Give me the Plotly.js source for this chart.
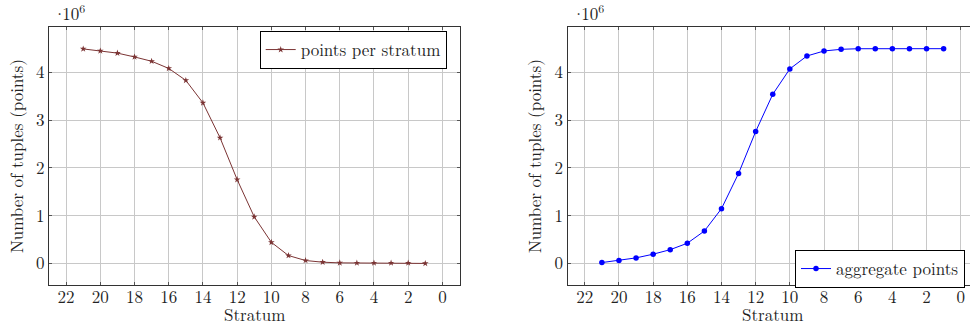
<!DOCTYPE html>
<html>
<head>
<meta charset="utf-8">
<script src="https://cdn.plot.ly/plotly-3.0.1.min.js"></script>
<style>
html,body{margin:0;padding:0;overflow:hidden;background:#fff;width:970px;height:326px;}
#plot{width:985px;height:326px;}
</style>
</head>
<body>
<div id="plot"></div>
<script>
// Data (values in units of 10^6 tuples)
const strata = [21,20,19,18,17,16,15,14,13,12,11,10,9,8,7,6,5,4,3,2,1];
const pointsPerStratum = [4.488,4.446,4.40,4.32,4.23,4.08,3.83,3.36,2.63,1.755,0.976,0.444,0.167,0.063,0.028,0.014,0.012,0.012,0.012,0.012,0.002];
const aggregatePoints = [0.02,0.063,0.118,0.195,0.29,0.424,0.68,1.148,1.885,2.76,3.54,4.07,4.34,4.445,4.48,4.492,4.493,4.493,4.493,4.493,4.493];
const xTickVals = [22,20,18,16,14,12,10,8,6,4,2,0];
const xTickText = ["22","20","18","16","14","12","10","8","6","4","2","0"];
const yTickVals = [0,1,2,3,4];
const yTickText = ["0","1","2","3","4"];

const W = 985, H = 326;
const FONT = "Latin Modern Roman";
const TXT = "#222";
const FS = 17;

function px(v){ return v / W; }
function py(v){ return 1 - v / H; }

const xDom1 = [px(49), px(459.5)];
const xDom2 = [px(567.7), px(977.8)];
const yDom = [py(285), py(27.3)];

const trace1 = {
  x: strata, y: pointsPerStratum, type: 'scatter', mode: 'lines+markers',
  name: 'points per stratum', xaxis: 'x', yaxis: 'y', legend: 'legend',
  line: {color: '#7b3434', width: 1},
  marker: {symbol: 'star', size: 5, color: '#7b3434'}
};
const trace2 = {
  x: strata, y: aggregatePoints, type: 'scatter', mode: 'lines+markers',
  name: 'aggregate points', xaxis: 'x2', yaxis: 'y2', legend: 'legend2',
  line: {color: '#0000ff', width: 1},
  marker: {symbol: 'circle', size: 5.5, color: '#0000ff'}
};

function xAxis(dom, anchor){
  return {
    domain: dom, anchor: anchor, range: [23, -1],
    tickmode: 'array', tickvals: xTickVals, ticktext: xTickText,
    showgrid: true, gridcolor: '#c8c8c8', gridwidth: 1,
    zeroline: false, showline: true, linecolor: '#333', linewidth: 1.2,
    mirror: 'ticks', ticks: 'inside', ticklen: 3, tickcolor: '#555',
    ticklabelstandoff: -4,
    tickfont: {family: FONT, size: FS, color: TXT},
    automargin: false
  };
}
function yAxis(dom, anchor){
  return {
    domain: dom, anchor: anchor, range: [-0.449, 4.94],
    tickmode: 'array', tickvals: yTickVals, ticktext: yTickText,
    showgrid: true, gridcolor: '#c8c8c8', gridwidth: 1,
    zeroline: false, showline: true, linecolor: '#333', linewidth: 1.2,
    mirror: 'ticks', ticks: 'inside', ticklen: 3, tickcolor: '#555',
    tickfont: {family: FONT, size: FS, color: TXT},
    title: {text: 'Number of tuples (points)', font: {family: FONT, size: FS, color: TXT}, standoff: 8},
    automargin: false
  };
}

const scaleText = '<span style="letter-spacing:-4px">·</span>10<sup>6</sup>';

const layout = {
  width: W, height: H,
  margin: {l: 0, r: 0, t: 0, b: 0},
  paper_bgcolor: '#fff', plot_bgcolor: '#fff',
  showlegend: true,
  font: {family: FONT, color: TXT},
  xaxis: xAxis(xDom1, 'y'),
  yaxis: yAxis(yDom, 'x'),
  xaxis2: xAxis(xDom2, 'y2'),
  yaxis2: yAxis(yDom, 'x2'),
  legend: {
    x: px(446.7), y: py(31), xanchor: 'right', yanchor: 'top',
    bgcolor: '#fff', bordercolor: '#000', borderwidth: 1,
    font: {family: FONT, size: FS, color: TXT}, itemwidth: 30,
    tracegroupgap: 0
  },
  legend2: {
    x: px(965), y: py(250), xanchor: 'right', yanchor: 'top',
    bgcolor: '#fff', bordercolor: '#000', borderwidth: 1,
    font: {family: FONT, size: FS, color: TXT}, itemwidth: 30,
    tracegroupgap: 0
  },
  annotations: [
    {xref: 'paper', yref: 'paper', x: px(51), y: py(13), xanchor: 'left', yanchor: 'middle',
     text: scaleText, showarrow: false, font: {family: FONT, size: FS, color: TXT}},
    {xref: 'paper', yref: 'paper', x: px(569.5), y: py(13), xanchor: 'left', yanchor: 'middle',
     text: scaleText, showarrow: false, font: {family: FONT, size: FS, color: TXT}},
    {xref: 'x domain', yref: 'paper', x: 0.5, y: py(313.5), xanchor: 'center', yanchor: 'middle',
     text: 'Stratum', showarrow: false, font: {family: FONT, size: FS, color: TXT}},
    {xref: 'x2 domain', yref: 'paper', x: 0.5, y: py(313.5), xanchor: 'center', yanchor: 'middle',
     text: 'Stratum', showarrow: false, font: {family: FONT, size: FS, color: TXT}}
  ]
};

Plotly.newPlot('plot', [trace1, trace2], layout, {staticPlot: true, displayModeBar: false});
</script>
</body>
</html>
